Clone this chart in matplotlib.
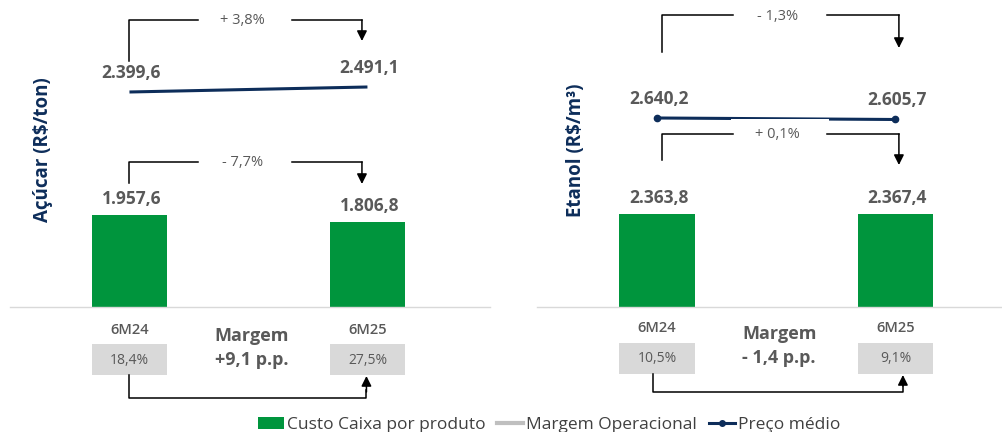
import matplotlib
matplotlib.use("Agg")
import matplotlib.pyplot as plt
from matplotlib.lines import Line2D
from matplotlib.patches import Patch, Rectangle, FancyArrowPatch
from matplotlib.transforms import Affine2D

plt.rcParams['font.family'] = ['Open Sans', 'DejaVu Sans']

# ---- data ----
periods = ["6M24", "6M25"]
sugar_cost = [1957.6, 1806.8]
sugar_price = [2399.6, 2491.1]
sugar_margin = [18.4, 27.5]
sugar_labels = {"cost": ["1.957,6", "1.806,8"], "price": ["2.399,6", "2.491,1"],
                "margin": ["18,4%", "27,5%"]}
sugar_changes = {"price": "+ 3,8%", "cost": "- 7,7%", "margin": "+9,1 p.p."}

ethanol_cost = [2363.8, 2367.4]
ethanol_price = [2640.2, 2605.7]
ethanol_margin = [10.5, 9.1]
ethanol_labels = {"cost": ["2.363,8", "2.367,4"], "price": ["2.640,2", "2.605,7"],
                  "margin": ["10,5%", "9,1%"]}
ethanol_changes = {"price": "- 1,3%", "cost": "+ 0,1%", "margin": "- 1,4 p.p."}

GREEN = "#00953D"
NAVY = "#0D2D5A"
GRAY_TXT = "#595959"
BOX = "#D9D9D9"

W, H = 1002, 432
fig = plt.figure(figsize=(W / 100, H / 100), dpi=100)

# pixel transform (x from left, y from top)
PX = Affine2D().scale(1, -1).translate(0, H)


def fx(x):
    return x / W


def fy(y):
    return (H - y) / H


def seg(xs, ys, **kw):
    fig.add_artist(Line2D(xs, ys, transform=PX, color="black", lw=1.1, **kw))


def arrow(p0, p1):
    fig.add_artist(FancyArrowPatch(p0, p1, transform=PX, arrowstyle="-|>,head_length=0.6,head_width=0.3",
                                   mutation_scale=10, color="black", lw=1.1, shrinkA=0, shrinkB=0))


def panel(left, right, xlim, ymax, plim, cost, price, labels, changes, ylabel,
          ylabel_x, markers, off):
    ax = fig.add_axes([fx(left), fy(307), fx(right) - fx(left), fy(0) - fy(307)])
    x = [0, 1]
    ax.bar(x, cost, width=0.315, color=GREEN, zorder=2)
    ax.set_xlim(*xlim)
    ax.set_ylim(0, ymax)
    for s in ["top", "left", "right"]:
        ax.spines[s].set_visible(False)
    ax.spines["bottom"].set_color(BOX)
    ax.spines["bottom"].set_linewidth(1)
    ax.set_xticks([])
    ax.set_yticks([])

    axp = ax.twinx()
    axp.plot(x, price, color=NAVY, lw=2.2, marker="o" if markers else None, markersize=4.5,
             solid_capstyle="butt", zorder=3)
    axp.set_ylim(*plim)
    axp.axis("off")

    for xi, v, lab in zip(x, cost, labels["cost"]):
        ax.annotate(lab, (xi, v), xytext=(2, 16), textcoords="offset pixels", ha="center",
                    va="center", fontsize=12.5, fontweight="bold", color=GRAY_TXT)
    for xi, v, lab in zip(x, price, labels["price"]):
        axp.annotate(lab, (xi, v), xytext=(2, 19), textcoords="offset pixels", ha="center",
                     va="center", fontsize=12.5, fontweight="bold", color=GRAY_TXT)

    fig.canvas.draw()
    c0 = ax.transData.transform((0, 0))[0]
    c1 = ax.transData.transform((1, 0))[0]
    half = (ax.transData.transform((0.315, 0))[0] - ax.transData.transform((0, 0))[0]) / 2
    mid = (c0 + c1) / 2
    price_px = [H - axp.transData.transform((xi, v))[1] for xi, v in zip(x, price)]

    # change brackets: (top y, start y, arrow end y, text)
    for ytop, ystart, yend, txt in off["brackets"]:
        a = c0 + off["dx0"]
        b = c1 + off["dx1"]
        m = (a + b) / 2
        # white label box between the bracket arms
        box_top = max(ytop - 15, min(price_px) + 0.5) if ytop > max(price_px) else ytop - 10
        fig.add_artist(Rectangle((m - 49, box_top), 98, ytop + 12 - box_top, transform=PX,
                                 facecolor="white", edgecolor="none", zorder=1))
        seg([a, a, m - 47], [ystart, ytop, ytop])
        seg([m + 47, b], [ytop, ytop])
        arrow((b, ytop), (b, yend))
        fig.text(m - 3, ytop + 1, changes[txt], transform=PX, ha="center", va="center",
                 fontsize=10.5, color=GRAY_TXT, zorder=2)

    # period labels and margin boxes
    for c, p, m in zip([c0, c1], periods, labels["margin"]):
        fig.text(c, off["py"], p, transform=PX, ha="center", va="center", fontsize=10.5,
                 fontweight="semibold", color=GRAY_TXT)
        fig.add_artist(Rectangle((c - half, off["by"]), 2 * half, 31, transform=PX,
                                 facecolor=BOX, edgecolor="none"))
        fig.text(c, off["by"] + 16, m, transform=PX, ha="center", va="center", fontsize=10,
                 color=GRAY_TXT)
    fig.text(mid + 3, off["py"] + 6, "Margem", transform=PX, ha="center", va="center",
             fontsize=13, fontweight="bold", color=GRAY_TXT)
    fig.text(mid + 3, off["py"] + 30, changes["margin"], transform=PX, ha="center", va="center",
             fontsize=13, fontweight="bold", color=GRAY_TXT)

    # margin arrow underneath
    a = c0 + off["bdx0"]
    b = c1 + off["bdx1"]
    seg([a, a, b, b], [off["by"] + 31, off["bb"], off["bb"], off["bb"] - 8])
    arrow((b, off["bb"] - 6), (b, off["by"] + 32))

    fig.text(ylabel_x, 150, ylabel, transform=PX, rotation=90, ha="center", va="center",
             fontsize=13.5, fontweight="bold", color=NAVY)
    return ax


panel(10, 490, (-0.502, 1.515), 6532, (-1535, 4083), sugar_cost, sugar_price, sugar_labels,
      sugar_changes, "Açúcar (R$/ton)", 43, False,
      {"dx0": -0.5, "dx1": -5.5, "brackets": [(20, 61, 41, "price"), (162, 183, 184, "cost")],
       "py": 330, "by": 344, "bb": 398, "bdx0": 0, "bdx1": -1})

panel(537, 1002, (-0.503, 1.447), 7778, (-1707, 5354), ethanol_cost, ethanol_price, ethanol_labels,
      ethanol_changes, "Etanol (R$/m³)", 576, True,
      {"dx0": 5, "dx1": 3.5, "brackets": [(15, 52, 48, "price"), (134, 160, 165, "cost")],
       "py": 328, "by": 343, "bb": 392, "bdx0": -4, "bdx1": 7.5})

handles = [Patch(facecolor=GREEN, edgecolor="none"),
           Line2D([], [], color="#BFBFBF", lw=3),
           Line2D([], [], color=NAVY, lw=2.2, marker="o", markersize=4)]
fig.legend(handles, ["Custo Caixa por produto", "Margem Operacional", "Preço médio"],
           loc="center", bbox_to_anchor=(fx(549), fy(425)), ncol=3, frameon=False,
           fontsize=12.5, handlelength=1.5, handletextpad=0.15, columnspacing=0.7,
           labelcolor="#404040", borderpad=0)

fig.savefig("out.png", dpi=100)
